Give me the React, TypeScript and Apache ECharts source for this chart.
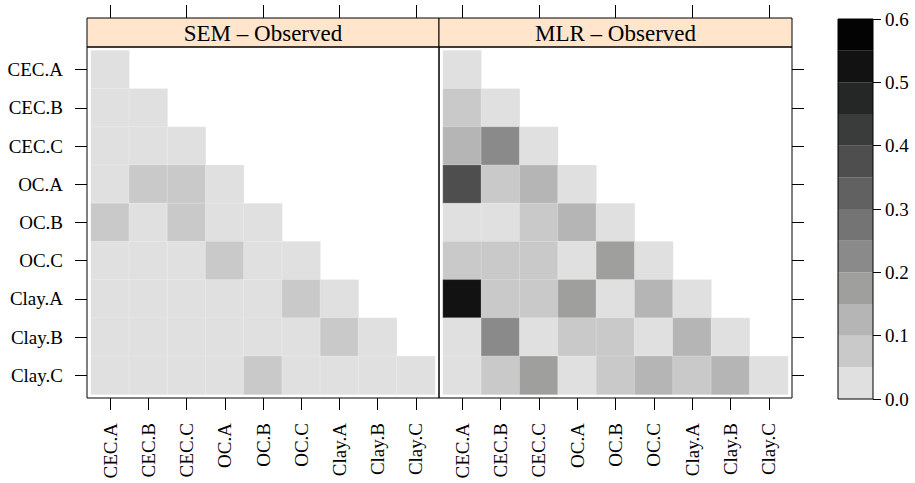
import React, { useEffect, useRef } from "react";
import * as echarts from "echarts";

const variables = ["CEC.A", "CEC.B", "CEC.C", "OC.A", "OC.B", "OC.C", "Clay.A", "Clay.B", "Clay.C"];
const panelTitles = ["SEM \u2013 Observed", "MLR \u2013 Observed"];

// lower-triangle rows (row i holds columns 0..i)
const semValues = [
  [0.02],
  [0.02, 0.02],
  [0.02, 0.02, 0.02],
  [0.02, 0.07, 0.07, 0.02],
  [0.07, 0.02, 0.07, 0.02, 0.02],
  [0.02, 0.02, 0.02, 0.07, 0.02, 0.02],
  [0.02, 0.02, 0.02, 0.02, 0.02, 0.07, 0.02],
  [0.02, 0.02, 0.02, 0.02, 0.02, 0.02, 0.07, 0.02],
  [0.02, 0.02, 0.02, 0.02, 0.07, 0.02, 0.02, 0.02, 0.02],
];

const mlrValues = [
  [0.02],
  [0.07, 0.02],
  [0.12, 0.22, 0.02],
  [0.37, 0.07, 0.12, 0.02],
  [0.02, 0.02, 0.07, 0.12, 0.02],
  [0.07, 0.07, 0.07, 0.02, 0.17, 0.02],
  [0.52, 0.07, 0.07, 0.17, 0.02, 0.12, 0.02],
  [0.02, 0.22, 0.02, 0.07, 0.07, 0.02, 0.12, 0.02],
  [0.02, 0.07, 0.17, 0.02, 0.07, 0.12, 0.07, 0.12, 0.02],
];

const colorBreaks = [0, 0.05, 0.1, 0.15, 0.2, 0.25, 0.3, 0.35, 0.4, 0.45, 0.5, 0.55, 0.6];
const grayPalette = [
  "#e0e0e0", "#c9c9c9", "#b4b5b4", "#9f9f9e", "#8a8a8a", "#747474",
  "#606160", "#4e4e4e", "#3a3b3b", "#252626", "#121212", "#030303",
];

const FONT = "'Liberation Serif', 'Times New Roman', serif";

function toCells(rows: number[][]) {
  const out: number[][] = [];
  rows.forEach((r, i) => r.forEach((v, j) => out.push([j, i, v])));
  return out;
}

export default function App() {
  const ref = useRef<HTMLDivElement>(null);
  useEffect(() => {
    if (!ref.current) return;
    const chart = echarts.init(ref.current, undefined, { renderer: "svg" });

    const bottomAxis = (gridIndex: number) => ({
      gridIndex,
      type: "category",
      data: variables,
      position: "bottom",
      offset: 3.5,
      axisLine: { show: false },
      axisTick: { show: true, length: 12, alignWithLabel: true, lineStyle: { color: "#000", width: 1 } },
      axisLabel: { show: true, rotate: 90, margin: 25, fontSize: 19, fontFamily: FONT, color: "#000", interval: 0 },
      splitLine: { show: false },
    });
    const topAxis = (gridIndex: number) => ({
      gridIndex,
      type: "category",
      data: variables,
      position: "top",
      offset: 32.5,
      axisLine: { show: false },
      axisTick: { show: true, length: 13, alignWithLabel: true, lineStyle: { color: "#000", width: 1 } },
      axisLabel: { show: false },
      splitLine: { show: false },
    });

    const option: any = {
      animation: false,
      backgroundColor: "#fff",
      grid: [
        { left: 91, top: 50.5, width: 344, height: 344 },
        { left: 443, top: 50.5, width: 345, height: 344 },
        { left: 838, top: 19, width: 35, height: 380 },
      ],
      xAxis: [
        bottomAxis(0),
        topAxis(0),
        bottomAxis(1),
        topAxis(1),
        { gridIndex: 2, type: "category", data: [""], show: false },
      ],
      yAxis: [
        {
          gridIndex: 0,
          type: "category",
          data: variables,
          inverse: true,
          position: "left",
          offset: 4,
          axisLine: { show: false },
          axisTick: { show: true, length: 12, alignWithLabel: true, lineStyle: { color: "#000" } },
          axisLabel: { show: true, margin: 24, fontSize: 19, fontFamily: FONT, color: "#000", interval: 0 },
          splitLine: { show: false },
        },
        {
          gridIndex: 1,
          type: "category",
          data: variables,
          inverse: true,
          position: "right",
          offset: 4,
          axisLine: { show: false },
          axisTick: { show: true, length: 12, alignWithLabel: true, lineStyle: { color: "#000" } },
          axisLabel: { show: false },
          splitLine: { show: false },
        },
        {
          gridIndex: 2,
          type: "value",
          min: 0,
          max: 0.6,
          interval: 0.1,
          position: "right",
          axisLine: { show: false },
          axisTick: { show: true, length: 8, lineStyle: { color: "#000" } },
          axisLabel: {
            show: true,
            margin: 12,
            fontSize: 19,
            fontFamily: FONT,
            color: "#000",
            formatter: (v: number) => v.toFixed(1),
          },
          splitLine: { show: false },
        },
      ],
      visualMap: {
        type: "piecewise",
        show: false,
        seriesIndex: [0, 1],
        dimension: 2,
        pieces: grayPalette.map((c, i) => ({
          gte: colorBreaks[i],
          lt: colorBreaks[i + 1],
          color: c,
        })),
      },
      series: [
        {
          type: "heatmap",
          xAxisIndex: 0,
          yAxisIndex: 0,
          data: toCells(semValues),
          itemStyle: { borderColor: "rgba(255,255,255,0.35)", borderWidth: 0.6 },
          emphasis: { disabled: true },
        },
        {
          type: "heatmap",
          xAxisIndex: 2,
          yAxisIndex: 1,
          data: toCells(mlrValues),
          itemStyle: { borderColor: "rgba(255,255,255,0.35)", borderWidth: 0.6 },
          emphasis: { disabled: true },
        },
        ...grayPalette.map((c, i) => ({
          type: "bar",
          xAxisIndex: 4,
          yAxisIndex: 2,
          stack: "colorkey",
          barWidth: "100%",
          data: [colorBreaks[i + 1] - colorBreaks[i]],
          itemStyle: { color: c },
          emphasis: { disabled: true },
          silent: true,
        })),
      ],
      graphic: [
        {
          type: "rect",
          z: 100,
          shape: { x: 87, y: 18, width: 352, height: 29 },
          style: { fill: "#ffe5cc", stroke: "#000", lineWidth: 1 },
        },
        {
          type: "rect",
          z: 100,
          shape: { x: 439, y: 18, width: 353, height: 29 },
          style: { fill: "#ffe5cc", stroke: "#000", lineWidth: 1 },
        },
        {
          type: "rect",
          z: 100,
          shape: { x: 87, y: 47, width: 352, height: 351 },
          style: { fill: "none", stroke: "#000", lineWidth: 1 },
        },
        {
          type: "rect",
          z: 100,
          shape: { x: 439, y: 47, width: 353, height: 351 },
          style: { fill: "none", stroke: "#000", lineWidth: 1 },
        },
        {
          type: "rect",
          z: 100,
          shape: { x: 838, y: 19, width: 35, height: 380 },
          style: { fill: "none", stroke: "#000", lineWidth: 1 },
        },
        {
          type: "text",
          z: 101,
          x: 263,
          y: 33,
          style: {
            text: panelTitles[0],
            fontSize: 23,
            fontFamily: FONT,
            fill: "#000",
            align: "center",
            verticalAlign: "middle",
          },
        },
        {
          type: "text",
          z: 101,
          x: 615.5,
          y: 33,
          style: {
            text: panelTitles[1],
            fontSize: 23,
            fontFamily: FONT,
            fill: "#000",
            align: "center",
            verticalAlign: "middle",
          },
        },
      ],
    };

    chart.setOption(option);
    return () => chart.dispose();
  }, []);

  return (
    <div
      ref={ref}
      style={{ position: "fixed", left: 0, top: 0, width: 915, height: 483, background: "#fff" }}
    />
  );
}
